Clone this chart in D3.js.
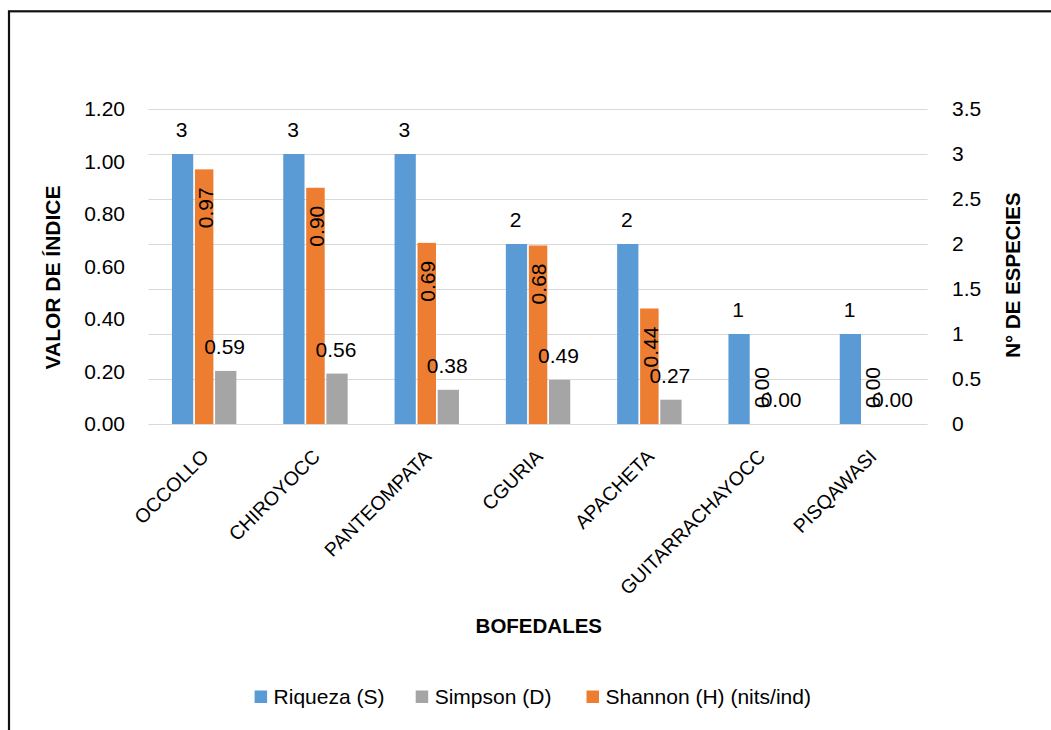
<!DOCTYPE html>
<html><head><meta charset="utf-8">
<script src="https://cdn.jsdelivr.net/npm/d3@7"></script>
<style>
body{margin:0;background:#fff}
svg{display:block}
text{font-family:"Liberation Sans",Arial,sans-serif;fill:#000}
</style>
</head><body>
<svg id="c" width="1051" height="730"></svg>
<script>
// ---- data ----
const categories = ["OCCOLLO","CHIROYOCC","PANTEOMPATA","CGURIA","APACHETA","GUITARRACHAYOCC","PISQAWASI"];
const riqueza = [3,3,3,2,2,1,1];
const simpson = [0.59,0.56,0.38,0.49,0.27,0.00,0.00];
const shannon = [0.97,0.90,0.69,0.68,0.44,0.00,0.00];
const leftTicks = [0,0.2,0.4,0.6,0.8,1.0,1.2];
const rightTicks = [0,0.5,1,1.5,2,2.5,3,3.5];
const seriesNames = ["Riqueza (S)","Simpson (D)","Shannon (H) (nits/ind)"];
const seriesKeys = ["S","D","H"];
const colors = {S:"#5B9BD5", D:"#A5A5A5", H:"#ED7D31"};

// ---- layout ----
const svg = d3.select("#c");
const L = 148.5, R = 927.6, T = 109, B = 424;

svg.append("rect").attr("width",1051).attr("height",730).attr("fill","#fff");
svg.append("rect").attr("x",9).attr("y",11.3).attr("width",1100).attr("height",1000)
  .attr("fill","none").attr("stroke","#111").attr("stroke-width",2.2);

const x = d3.scaleBand().domain(categories).range([L,R]).padding(0);
const yL = d3.scaleLinear().domain([0,1.2]).range([B,T]);
const yR = d3.scaleLinear().domain([0,3.5]).range([B,T]);
const sub = d3.scaleBand().domain(["S","H","D"]).range([-32.2,32.2]).padding(0);

// gridlines (secondary axis)
svg.append("g").selectAll("line").data(rightTicks).join("line")
  .attr("x1",L).attr("x2",R)
  .attr("y1",d=>Math.round(yR(d))+0.5).attr("y2",d=>Math.round(yR(d))+0.5)
  .attr("stroke","#D9D9D9").attr("stroke-width",1);

// left axis labels
svg.append("g").selectAll("text").data(leftTicks).join("text")
  .attr("x",125).attr("y",d=>yL(d)).attr("dy","0.35em")
  .attr("text-anchor","end").style("font-size","21px")
  .text(d=>d.toFixed(2));

// right axis labels
svg.append("g").selectAll("text").data(rightTicks).join("text")
  .attr("x",952).attr("y",d=>yR(d)).attr("dy","0.35em")
  .attr("text-anchor","start").style("font-size","21px")
  .text(d=>d3.format("~g")(d));

// axis titles
svg.append("text").attr("transform","translate(60,277.5) rotate(-90)")
  .attr("text-anchor","middle").style("font-size","21px").style("font-weight","bold")
  .text("VALOR DE ÍNDICE");
svg.append("text").attr("transform","translate(1020,275) rotate(-90)")
  .attr("text-anchor","middle").style("font-size","20.5px").style("font-weight","bold")
  .text("N° DE ESPECIES");
svg.append("text").attr("x",538.8).attr("y",632.5)
  .attr("text-anchor","middle").style("font-size","20.5px").style("font-weight","bold")
  .text("BOFEDALES");

const cx = c => x(c) + x.bandwidth()/2;

// bars
const gBars = svg.append("g");
// Riqueza (secondary)
gBars.selectAll("rect.s").data(categories).join("rect").attr("class","s")
  .attr("x",(c)=>cx(c)+sub("S")).attr("width",sub.bandwidth()-0.2)
  .attr("y",(c,i)=>yR(riqueza[i])).attr("height",(c,i)=>B-yR(riqueza[i]))
  .attr("fill",colors.S);
// Shannon (primary)
gBars.selectAll("rect.h").data(categories).join("rect").attr("class","h")
  .attr("x",(c)=>cx(c)+sub("H")+1.5).attr("width",sub.bandwidth()-3)
  .attr("y",(c,i)=>yL(shannon[i])).attr("height",(c,i)=>B-yL(shannon[i]))
  .attr("fill",colors.H);
// Simpson (secondary)
gBars.selectAll("rect.d").data(categories).join("rect").attr("class","d")
  .attr("x",(c)=>cx(c)+sub("D")+0.2).attr("width",sub.bandwidth()-0.2)
  .attr("y",(c,i)=>yR(simpson[i])).attr("height",(c,i)=>B-yR(simpson[i]))
  .attr("fill",colors.D);

// data labels
const gLab = svg.append("g").style("font-size","21px");
gLab.selectAll("text.s").data(categories).join("text").attr("class","s")
  .attr("x",c=>cx(c)+sub("S")+sub.bandwidth()/2-1)
  .attr("y",(c,i)=>yR(riqueza[i])-17)
  .attr("text-anchor","middle").text((c,i)=>d3.format("~g")(riqueza[i]));
gLab.selectAll("text.d").data(categories).join("text").attr("class","d")
  .attr("x",c=>cx(c)+sub("D")+sub.bandwidth()/2-1)
  .attr("y",(c,i)=>yR(simpson[i])-17)
  .attr("text-anchor","middle").text((c,i)=>simpson[i].toFixed(2));
gLab.selectAll("text.h").data(categories).join("text").attr("class","h")
  .attr("transform",(c,i)=>{
    const yEnd = Math.min(yL(shannon[i])+18, B-57);
    return `translate(${cx(c)+sub("H")+sub.bandwidth()/2+1},${yEnd}) rotate(-90)`;
  })
  .attr("dy","0.35em").attr("text-anchor","end")
  .text((c,i)=>shannon[i].toFixed(2));

// category labels
svg.append("g").selectAll("text").data(categories).join("text")
  .attr("transform",c=>`translate(${cx(c)+1},453) rotate(-45)`)
  .attr("dy","0.35em").attr("text-anchor","end").style("font-size","19.5px")
  .text(c=>c);

// legend
const legX = [254.6, 415.7, 586.5];
const gLeg = svg.append("g");
seriesKeys.forEach((k,i)=>{
  gLeg.append("rect").attr("x",legX[i]).attr("y",690.5).attr("width",12.5).attr("height",12.5)
    .attr("fill",colors[k]);
  gLeg.append("text").attr("x",legX[i]+19).attr("y",704).style("font-size","21px")
    .text(seriesNames[i]);
});
</script>
</body></html>
